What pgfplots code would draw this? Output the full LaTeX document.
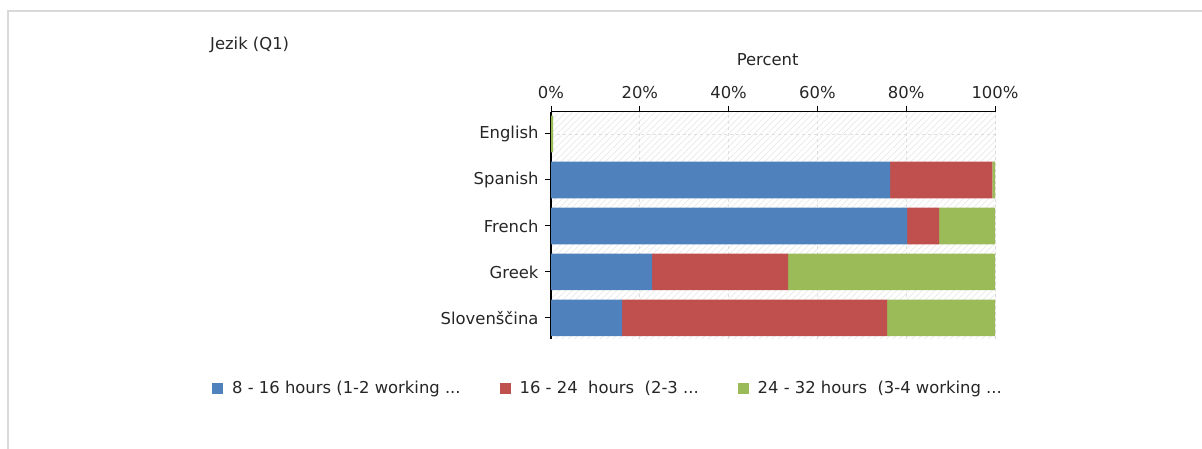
\documentclass[border=0pt]{standalone}
\usepackage{fontspec}
\setmainfont{DejaVu Sans}
\usepackage{pgfplots}
\usepackage{pgfplotstable}
\pgfplotsset{compat=1.18}
\usetikzlibrary{patterns.meta}
\definecolor{cblue}{HTML}{4F81BD}
\definecolor{cred}{HTML}{C0504D}
\definecolor{cgreen}{HTML}{9BBB59}
\definecolor{ctext}{HTML}{262626}
\newcommand{\ff}{\fontsize{16.4bp}{19bp}\selectfont}
\pgfplotstableread{
y a b c
0 16.0 59.7 24.3
1 22.8 30.6 46.6
2 80.2 7.2 12.6
3 76.4 23.0 0.6
4 0 0 0.5
}\datatable
\begin{document}
\begin{tikzpicture}[font=\ff, text=ctext]
\path[use as bounding box] (0,0) rectangle (1202bp,449bp);
\draw[black!15, line width=2bp] (7.5bp,0) -- (7.5bp,438bp) -- (1202bp,438bp);
\node[anchor=west, inner sep=0pt] at (210bp,404bp) {Jezik (Q1)};
\begin{axis}[
  at={(551bp,110bp)}, anchor=south west,
  scale only axis, width=444bp, height=227.3bp,
  xbar stacked, bar width=36.7bp,
  xmin=0, xmax=100, ymin=-0.46, ymax=4.485,
  axis x line*=top, axis y line*=left,
  axis line style={black, line width=1.3bp},
  axis background/.style={pattern={Lines[angle=45, distance=4.5bp, line width=0.7bp]}, pattern color=black!9},
  xtick={0,20,...,100}, ytick={0,...,4},
  yticklabels={Slovenščina,Greek,French,Spanish,English},
  xticklabel={\pgfmathprintnumber{\tick}\%},
  /pgf/number format/assume math mode=true,
  tick align=outside, major tick length=6bp,
  tick style={black, line width=1bp},
  xmajorgrids, ymajorgrids,
  grid style={dashed, black!13, line width=0.8bp},
  tick label style={font=\ff, text=ctext},
  x tick label style={yshift=3bp},
  y tick label style={xshift=-3bp},
  xlabel={Percent},
  xlabel style={font=\ff, text=ctext, at={(axis description cs:0.488,1)}, anchor=center, yshift=52bp},
  legend style={at={(axis description cs:-0.7635,-0.2156)}, anchor=west, legend columns=3, draw=none, fill=none, inner sep=0pt, font=\ff, text=ctext,
    /tikz/every odd column/.append style={column sep=7bp},
    /tikz/every even column/.append style={column sep=37bp}},
  legend image code/.code={\fill[#1] (0bp,-5.5bp) rectangle (11bp,5.5bp);},
]
\addplot[fill=cblue, draw=none] table[x=a,y=y]{\datatable};
\addlegendentry{8 - 16 hours (1-2 working ...}
\addplot[fill=cred, draw=none] table[x=b,y=y]{\datatable};
\addlegendentry{16 - 24\ \ hours\ \ (2-3 ...}
\addplot[fill=cgreen, draw=none] table[x=c,y=y]{\datatable};
\addlegendentry{24 - 32 hours\ \ (3-4 working ...}
\draw[black!20, line width=1bp] (rel axis cs:1,0) -- (rel axis cs:1,1);
\draw[black!15, dashed, line width=0.8bp] (rel axis cs:0,0) -- (rel axis cs:1,0);
\end{axis}
\end{tikzpicture}
\end{document}
